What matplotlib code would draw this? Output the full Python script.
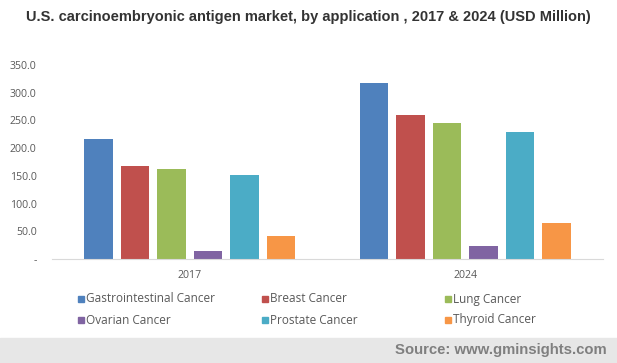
import matplotlib
matplotlib.use("Agg")
import matplotlib.pyplot as plt
import numpy as np
from matplotlib.patches import Rectangle

# Data
years = ["2017", "2024"]
applications = ["Gastrointestinal Cancer", "Breast Cancer", "Lung Cancer",
                "Ovarian Cancer", "Prostate Cancer", "Thyroid Cancer"]
gastro = [217, 317]
breast = [167, 259]
lung = [163, 246]
ovarian = [15, 24]
prostate = [152, 230]
thyroid = [42, 65]
yticks = [0, 50, 100, 150, 200, 250, 300, 350]
ytick_labels = ["-", "50.0", "100.0", "150.0", "200.0", "250.0", "300.0", "350.0"]

series = [gastro, breast, lung, ovarian, prostate, thyroid]
colors = ["#4F81BD", "#C0504D", "#9BBB59", "#8064A2", "#4BACC6", "#F79646"]
text_gray = "#595959"

W, H = 617, 363
fig = plt.figure(figsize=(W / 100, H / 100), dpi=100)

# axes placed in pixel terms
left, right, bottom, top = 52, 603, 259, 65
ax = fig.add_axes([left / W, 1 - bottom / H, (right - left) / W, (bottom - top) / H])

x = np.arange(len(years))
step = 0.1325
width = 0.105
for i, (vals, c) in enumerate(zip(series, colors)):
    ax.bar(x + (i - 2.5) * step, vals, width, color=c, label=applications[i])

ax.set_xlim(-0.5, 1.5)
ax.set_ylim(0, 350)
ax.set_yticks(yticks)
ax.set_yticklabels(ytick_labels)
ax.set_xticks(x)
ax.set_xticklabels(years)
for s in ["top", "right", "left"]:
    ax.spines[s].set_visible(False)
ax.spines["bottom"].set_color("#d9d9d9")
ax.tick_params(axis="both", length=0, labelsize=7.6, labelcolor=text_gray)
ax.tick_params(axis="y", pad=11)
ax.tick_params(axis="x", pad=8)
for lbl in ax.get_yticklabels() + ax.get_xticklabels():
    lbl.set_fontfamily("Open Sans")

fig.text(308.5 / W, 1 - 17 / H, "U.S. carcinoembryonic antigen market, by application , 2017 & 2024 (USD Million)",
         ha="center", va="center", fontsize=10.5, fontweight="bold", color="#333333",
         family="Liberation Sans")

# legend, laid out in a fixed 3-column grid
col_x = [78, 262, 445]
row_y = [299, 320]
for i, name in enumerate(applications):
    px = col_x[i % 3]
    py = row_y[i // 3]
    fig.patches.append(Rectangle((px / W, 1 - (py + 3) / H), 6 / W, 6 / H,
                                 transform=fig.transFigure, color=colors[i]))
    fig.text((px + 8) / W, 1 - py / H, name, ha="left", va="center",
             fontsize=8.5, color=text_gray, family="Open Sans")

# source band
fig.patches.append(Rectangle((0, 0), 1, (H - 338) / H, transform=fig.transFigure,
                             color="#e7e7e7", zorder=0))
fig.text(607 / W, 1 - 350 / H, "Source: www.gminsights.com", ha="right", va="center",
         fontsize=10.7, fontweight="bold", color="#7f7f7f", family="Liberation Sans")

fig.savefig("out.png", dpi=100)
